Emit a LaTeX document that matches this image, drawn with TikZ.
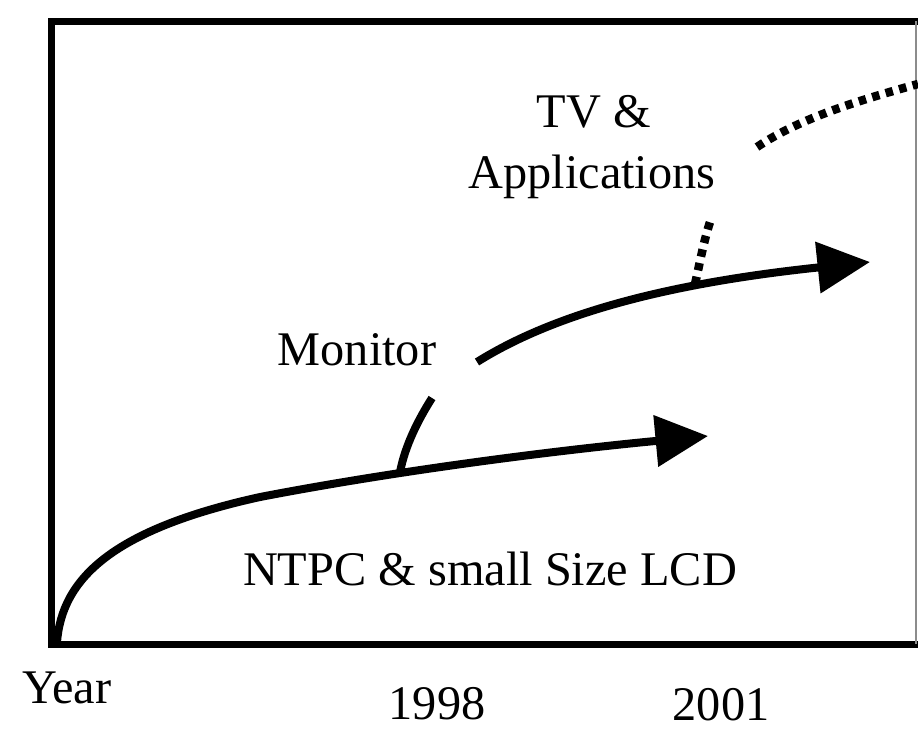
\documentclass[tikz,border=0pt]{standalone}
\usepackage{fontspec}
\setmainfont{Liberation Serif}
\usetikzlibrary{arrows.meta,positioning}
\tikzstyle{frame} = [line width=0.14cm, line join=miter]
\tikzstyle{trend} = [line width=0.16cm, -{Triangle[length=1.05cm, width=1.0cm]}]
\tikzstyle{branch} = [line width=0.16cm]
\tikzstyle{dotline} = [line width=0.17cm, dash pattern=on 0.15cm off 0.13cm]
\tikzstyle{lbl} = [inner sep=0pt, anchor=base, text depth=0pt, font=\fontsize{27.5}{33}\selectfont]

\begin{document}
\begin{tikzpicture}[x=0.02cm, y=-0.02cm]
\useasboundingbox (0,0) rectangle (918,728);

% Frame
\draw[frame] (918,21) -- (51,21) -- (51,644) -- (918,644);
\draw[line width=0.03cm, black!45] (916,21) -- (916,644);

% Labels
\node[lbl] (tv) at (594,127) {TV \&};
\node[lbl] (apps) at (592,188) {Applications};
\node[lbl] (monitor) at (357,365) {Monitor};
\node[lbl] (ntpc) at (490,585) {NTPC \& small Size LCD};
\node[lbl] (year) at (67,703) {Year};
\node[lbl] (y1998) at (437,719) {1998};
\node[lbl] (y2001) at (721,720) {2001};

% Curve ends
\coordinate (start) at (57,642);
\coordinate (ntpcend) at (708,436);
\coordinate (fork1) at (400,472);
\coordinate (monstart) at (477,362);
\coordinate (monend) at (870,262);
\coordinate (fork2) at (695,284);
\coordinate (appsend) at (710,222);
\coordinate (tvstart) at (757,147);
\coordinate (tvend) at (918,84);

% NTPC & small size LCD
\draw[trend] (start) .. controls (62,580) and (110,530) .. (260,497)
  .. controls (400,470) and (560,450) .. (ntpcend);

% Monitor
\draw[branch] (fork1) .. controls (405,446) and (418,420) .. (432,398);
\draw[trend] (monstart) .. controls (560,310) and (680,282) .. (monend);

% TV & applications
\draw[dotline] (fork2) .. controls (700,262) and (704,240) .. (appsend);
\draw[dotline] (tvstart) .. controls (800,118) and (860,100) .. (tvend);
\end{tikzpicture}
\end{document}
